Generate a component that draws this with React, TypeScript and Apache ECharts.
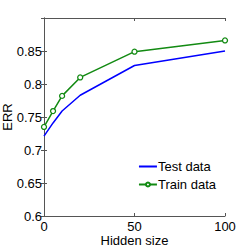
import React, { useEffect, useRef } from "react";
import * as echarts from "echarts";

const hiddenSizes = [0, 5, 10, 20, 50, 100];
const testData = [0.721, 0.741, 0.759, 0.783, 0.828, 0.85];
const trainData = [0.735, 0.759, 0.782, 0.81, 0.849, 0.866];
const xTicks = [0, 50, 100];
const yTicks = [0.6, 0.65, 0.7, 0.75, 0.8, 0.85];

const FONT = "Liberation Sans";
const AXIS_COLOR = "#555";
const BLUE = "#0000ff";
const GREEN = "#128a12";

export default function App() {
  const ref = useRef<HTMLDivElement>(null);
  useEffect(() => {
    if (!ref.current) return;
    const chart = echarts.init(ref.current, undefined, { renderer: "svg" });
    const fmtY = (v: number) => {
      const r = Math.round(v * 100) / 100;
      return yTicks.some((t) => Math.abs(t - r) < 1e-6) ? String(r) : "";
    };
    const fmtX = (v: number) => (xTicks.includes(v) ? String(v) : "");
    chart.setOption({
      animation: false,
      textStyle: { fontFamily: FONT },
      grid: { left: 44, top: 18, right: 24, bottom: 33, containLabel: false, outerBoundsMode: "none" },
      legend: {
        orient: "vertical",
        right: 28,
        top: 155,
        itemWidth: 18,
        itemHeight: 5,
        itemGap: 5,
        textStyle: { fontFamily: FONT, fontSize: 13, color: "#000", padding: [0, 0, 0, -4] },
        data: [
          { name: "Test data", itemStyle: { opacity: 0 } },
          { name: "Train data" },
        ],
      },
      xAxis: [
        {
          type: "value",
          min: 0,
          max: 100,
          interval: 50,
          name: "Hidden size",
          nameLocation: "middle",
          nameGap: 17,
          nameMoveOverlap: false,
          nameTextStyle: { fontFamily: FONT, fontSize: 13, color: "#000", lineHeight: 14 },
          axisLine: { lineStyle: { color: AXIS_COLOR, width: 1 } },
          axisTick: { inside: true, length: 3, lineStyle: { color: AXIS_COLOR } },
          axisLabel: { fontFamily: FONT, fontSize: 13, color: "#000", margin: 4, formatter: fmtX },
          splitLine: { show: false },
        },
        {
          type: "value",
          position: "top",
          min: 0,
          max: 100,
          interval: 50,
          axisLine: { show: true, lineStyle: { color: AXIS_COLOR, width: 1 } },
          axisTick: { show: true, inside: true, length: 3, lineStyle: { color: AXIS_COLOR } },
          axisLabel: { show: false },
          splitLine: { show: false },
        },
      ],
      yAxis: [
        {
          type: "value",
          min: 0.6,
          max: 0.9,
          interval: 0.05,
          name: "ERR",
          nameLocation: "middle",
          nameGap: 30,
          nameMoveOverlap: false,
          nameTextStyle: { fontFamily: FONT, fontSize: 13, color: "#000", lineHeight: 13 },
          axisLine: { show: true, lineStyle: { color: AXIS_COLOR, width: 1 } },
          axisTick: { show: true, inside: true, length: 3, lineStyle: { color: AXIS_COLOR } },
          axisLabel: { fontFamily: FONT, fontSize: 13, color: "#000", margin: 2, formatter: fmtY, showMaxLabel: false },
          splitLine: { show: false },
        },
        {
          type: "value",
          position: "right",
          min: 0.6,
          max: 0.9,
          interval: 0.05,
          axisLine: { show: true, lineStyle: { color: AXIS_COLOR, width: 1 } },
          axisTick: { show: true, inside: true, length: 3, lineStyle: { color: AXIS_COLOR } },
          axisLabel: { show: false },
          splitLine: { show: false },
        },
      ],
      series: [
        {
          name: "Test data",
          type: "line",
          data: hiddenSizes.map((x, i) => [x, testData[i]]),
          symbol: "none",
          lineStyle: { color: BLUE, width: 1.5 },
          itemStyle: { color: BLUE },
        },
        {
          name: "Train data",
          type: "line",
          data: hiddenSizes.map((x, i) => [x, trainData[i]]),
          symbol: "circle",
          symbolSize: 5,
          lineStyle: { color: GREEN, width: 1.5 },
          itemStyle: { color: "#fff", borderColor: GREEN, borderWidth: 1.3 },
        },
      ],
    });
    return () => chart.dispose();
  }, []);
  return <div ref={ref} style={{ width: 249, height: 249, position: "absolute", left: 0, top: 0, background: "#fff" }} />;
}
